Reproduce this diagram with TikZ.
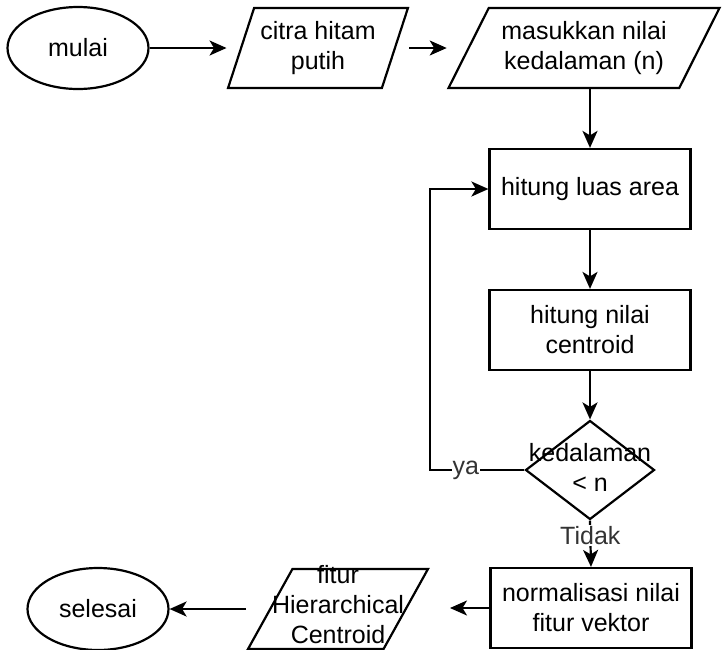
\documentclass[tikz,border=0pt]{standalone}
\usepackage{fontspec}
\setmainfont{Liberation Sans}
\usepackage{tikz}
\usetikzlibrary{shapes.geometric, arrows.meta}

\begin{document}
\begin{tikzpicture}[x=1pt, y=-1pt, line width=2.2pt, font=\fontsize{25}{30}\selectfont,
		>={Stealth[length=17pt,width=15pt,inset=4.5pt]}]
				\tikzset{terminal/.style={draw, ellipse, minimum width=141pt, minimum height=82pt, inner sep=0pt}}
				\tikzset{data io/.style={draw, trapezium, trapezium stretches=true, minimum height=80pt, align=center, inner sep=2pt}}
				\tikzset{process box/.style={draw, rectangle, minimum width=201pt, minimum height=80pt, align=center}}
				\tikzset{label text/.style={fill=white, inner sep=1pt, text=black!80}}
				\useasboundingbox (0,0) rectangle (726,649);

				\node[terminal] (mulai) at (78,48) {mulai};
				\node[data io, trapezium left angle=67, trapezium right angle=113, minimum width=180pt] (citra) at (318,48) {citra hitam\\putih};
				\node[data io, trapezium left angle=58, trapezium right angle=122, minimum width=272pt] (masukkan) at (584,48) {masukkan nilai\\kedalaman (n)};

				\node[process box] (luas) at (590,189) {hitung luas area};
				\node[process box] (centroid) at (590,330) {hitung nilai\\centroid};
				\node[draw, diamond, minimum width=129pt, minimum height=99pt, inner sep=2pt] (cek) at (590,470) {};
				\node[align=center] (cektext) at (590,467) {kedalaman\\< n};
				\coordinate (balik) at (430,470);

				\node[process box] (normal) at (591,608) {normalisasi nilai\\fitur vektor};
				\node[data io, trapezium left angle=64, trapezium right angle=116, minimum width=180pt] (fitur) at (338,609) {};
				\node[align=center] (fiturtext) at (338,605) {fitur\\Hierarchical\\Centroid};
				\coordinate (fiturkanan) at (450,608);
				\node[terminal] (selesai) at (98,609) {selesai};

				\draw[->] (mulai) -- (mulai -| citra.bottom left corner);
				\draw[->] (citra.top right corner |- citra.center) -- (masukkan.bottom left corner |- masukkan.center);
				\draw[->] (luas.north |- masukkan.south) -- (luas.north);
				\draw[->] (luas) -- (centroid);
				\draw[->] (centroid) -- (cek);
				\draw[->] (cek.west) -- node[label text, pos=0.62] (ya) {ya} (balik) |- (luas.west);
				\draw[->] (cek.south) -- node[label text, pos=0.32] (tidak) {Tidak} (normal.north);
				\draw[->] (normal.west) -- (fiturkanan);
				\draw[->] (fitur.bottom left corner |- fitur.center) -- (selesai);
			\end{tikzpicture}
\end{document}
